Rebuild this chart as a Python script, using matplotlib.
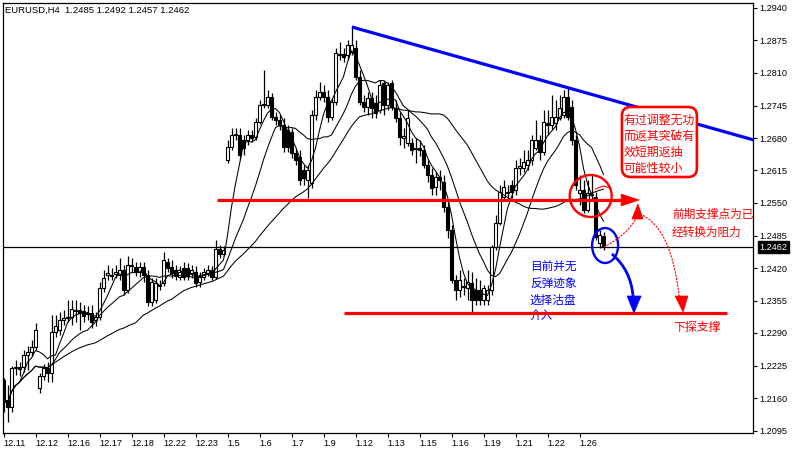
import numpy as np
import pandas as pd
import matplotlib
matplotlib.use("Agg")
import matplotlib.pyplot as plt
from matplotlib.patches import Ellipse, FancyBboxPatch, Polygon, PathPatch
from matplotlib.path import Path

# ---------------- data (EURUSD H4 candles) ----------------
opens = [1.2196, 1.2156, 1.2142, 1.2220, 1.2222, 1.2222, 1.2246, 1.2252, 1.2262, 1.2180,
         1.2204, 1.2220, 1.2210, 1.2292, 1.2296, 1.2316, 1.2320, 1.2322, 1.2336, 1.2336,
         1.2334, 1.2328, 1.2330, 1.2316, 1.2322, 1.2380, 1.2406, 1.2406, 1.2408, 1.2406,
         1.2416, 1.2376, 1.2426, 1.2422, 1.2412, 1.2422, 1.2406, 1.2352, 1.2356, 1.2386,
         1.2390, 1.2432, 1.2422, 1.2416, 1.2402, 1.2420, 1.2420, 1.2410, 1.2412, 1.2392,
         1.2402, 1.2410, 1.2416, 1.2402, 1.2458, 1.2448, 1.2636, 1.2662, 1.2686, 1.2686,
         1.2676, 1.2676, 1.2686, 1.2682, 1.2712, 1.2746, 1.2746, 1.2762, 1.2722, 1.2716,
         1.2706, 1.2696, 1.2692, 1.2650, 1.2642, 1.2616, 1.2596, 1.2590, 1.2726, 1.2762,
         1.2772, 1.2762, 1.2722, 1.2752, 1.2846, 1.2848, 1.2846, 1.2852, 1.2860, 1.2802,
         1.2752, 1.2742, 1.2760, 1.2750, 1.2736, 1.2790, 1.2746, 1.2790, 1.2740, 1.2720,
         1.2680, 1.2670, 1.2670, 1.2660, 1.2660, 1.2656, 1.2626, 1.2606, 1.2582, 1.2602,
         1.2592, 1.2542, 1.2496, 1.2396, 1.2376, 1.2382, 1.2380, 1.2390, 1.2376, 1.2376,
         1.2356, 1.2356, 1.2376, 1.2462, 1.2510, 1.2562, 1.2570, 1.2586, 1.2576, 1.2620,
         1.2620, 1.2626, 1.2636, 1.2660, 1.2676, 1.2652, 1.2710, 1.2706, 1.2710, 1.2720,
         1.2726, 1.2762, 1.2742, 1.2676, 1.2570, 1.2576, 1.2536, 1.2566, 1.2562, 1.2470,
         1.2485]
closes = [1.2156, 1.2142, 1.2220, 1.2222, 1.2218, 1.2246, 1.2252, 1.2262, 1.2296, 1.2204,
          1.2220, 1.2210, 1.2292, 1.2304, 1.2316, 1.2320, 1.2322, 1.2338, 1.2334, 1.2330,
          1.2324, 1.2330, 1.2312, 1.2322, 1.2380, 1.2400, 1.2410, 1.2404, 1.2412, 1.2416,
          1.2376, 1.2426, 1.2424, 1.2412, 1.2422, 1.2406, 1.2352, 1.2392, 1.2390, 1.2384,
          1.2436, 1.2420, 1.2410, 1.2404, 1.2412, 1.2402, 1.2404, 1.2416, 1.2390, 1.2402,
          1.2412, 1.2416, 1.2402, 1.2458, 1.2448, 1.2456, 1.2662, 1.2686, 1.2688, 1.2646,
          1.2660, 1.2686, 1.2680, 1.2712, 1.2746, 1.2748, 1.2762, 1.2722, 1.2716, 1.2706,
          1.2662, 1.2662, 1.2650, 1.2636, 1.2596, 1.2600, 1.2616, 1.2726, 1.2762, 1.2772,
          1.2762, 1.2722, 1.2752, 1.2850, 1.2848, 1.2842, 1.2866, 1.2866, 1.2802, 1.2752,
          1.2742, 1.2760, 1.2740, 1.2730, 1.2786, 1.2746, 1.2786, 1.2742, 1.2720, 1.2682,
          1.2684, 1.2720, 1.2656, 1.2658, 1.2656, 1.2626, 1.2606, 1.2580, 1.2602, 1.2596,
          1.2542, 1.2496, 1.2396, 1.2376, 1.2396, 1.2384, 1.2392, 1.2356, 1.2356, 1.2356,
          1.2380, 1.2376, 1.2462, 1.2510, 1.2572, 1.2582, 1.2572, 1.2572, 1.2620, 1.2624,
          1.2632, 1.2636, 1.2676, 1.2676, 1.2652, 1.2712, 1.2706, 1.2722, 1.2722, 1.2740,
          1.2762, 1.2722, 1.2676, 1.2586, 1.2576, 1.2536, 1.2570, 1.2568, 1.2482, 1.2486,
          1.2462]
highs = [1.2200, 1.2186, 1.2224, 1.2236, 1.2232, 1.2256, 1.2264, 1.2276, 1.2310, 1.2210,
         1.2228, 1.2232, 1.2326, 1.2326, 1.2332, 1.2336, 1.2356, 1.2356, 1.2356, 1.2352,
         1.2346, 1.2344, 1.2346, 1.2332, 1.2392, 1.2416, 1.2426, 1.2420, 1.2426, 1.2440,
         1.2426, 1.2444, 1.2440, 1.2432, 1.2432, 1.2432, 1.2416, 1.2400, 1.2400, 1.2396,
         1.2452, 1.2440, 1.2436, 1.2426, 1.2424, 1.2432, 1.2430, 1.2426, 1.2424, 1.2412,
         1.2420, 1.2426, 1.2424, 1.2476, 1.2466, 1.2464, 1.2676, 1.2700, 1.2700, 1.2700,
         1.2686, 1.2696, 1.2696, 1.2720, 1.2756, 1.2816, 1.2776, 1.2770, 1.2732, 1.2726,
         1.2720, 1.2706, 1.2700, 1.2660, 1.2656, 1.2626, 1.2626, 1.2736, 1.2776, 1.2792,
         1.2786, 1.2776, 1.2760, 1.2860, 1.2872, 1.2860, 1.2876, 1.2902, 1.2876, 1.2816,
         1.2766, 1.2772, 1.2772, 1.2766, 1.2796, 1.2796, 1.2792, 1.2796, 1.2756, 1.2732,
         1.2700, 1.2736, 1.2680, 1.2680, 1.2676, 1.2666, 1.2636, 1.2620, 1.2612, 1.2616,
         1.2606, 1.2556, 1.2506, 1.2406, 1.2416, 1.2400, 1.2416, 1.2412, 1.2400, 1.2396,
         1.2386, 1.2386, 1.2466, 1.2526, 1.2586, 1.2596, 1.2586, 1.2596, 1.2636, 1.2640,
         1.2656, 1.2656, 1.2686, 1.2716, 1.2686, 1.2736, 1.2736, 1.2766, 1.2756, 1.2766,
         1.2776, 1.2782, 1.2756, 1.2686, 1.2606, 1.2596, 1.2596, 1.2606, 1.2572, 1.2496,
         1.2492]
lows = [1.2132, 1.2112, 1.2132, 1.2206, 1.2204, 1.2212, 1.2216, 1.2244, 1.2256, 1.2170,
        1.2196, 1.2192, 1.2192, 1.2282, 1.2286, 1.2306, 1.2312, 1.2306, 1.2312, 1.2296,
        1.2312, 1.2316, 1.2300, 1.2304, 1.2316, 1.2372, 1.2396, 1.2396, 1.2400, 1.2396,
        1.2366, 1.2370, 1.2412, 1.2404, 1.2402, 1.2392, 1.2344, 1.2344, 1.2350, 1.2376,
        1.2384, 1.2412, 1.2400, 1.2396, 1.2396, 1.2396, 1.2396, 1.2400, 1.2382, 1.2382,
        1.2396, 1.2404, 1.2396, 1.2398, 1.2440, 1.2444, 1.2630, 1.2656, 1.2676, 1.2636,
        1.2646, 1.2666, 1.2672, 1.2676, 1.2708, 1.2740, 1.2740, 1.2716, 1.2706, 1.2696,
        1.2652, 1.2652, 1.2640, 1.2626, 1.2586, 1.2586, 1.2560, 1.2580, 1.2716, 1.2756,
        1.2752, 1.2712, 1.2716, 1.2746, 1.2836, 1.2832, 1.2836, 1.2846, 1.2796, 1.2746,
        1.2732, 1.2726, 1.2720, 1.2720, 1.2730, 1.2726, 1.2736, 1.2736, 1.2712, 1.2666,
        1.2660, 1.2664, 1.2646, 1.2630, 1.2644, 1.2620, 1.2592, 1.2566, 1.2566, 1.2576,
        1.2532, 1.2480, 1.2390, 1.2356, 1.2362, 1.2366, 1.2356, 1.2332, 1.2346, 1.2346,
        1.2346, 1.2346, 1.2366, 1.2456, 1.2506, 1.2556, 1.2556, 1.2560, 1.2566, 1.2606,
        1.2612, 1.2616, 1.2626, 1.2656, 1.2636, 1.2646, 1.2686, 1.2696, 1.2696, 1.2716,
        1.2720, 1.2716, 1.2666, 1.2576, 1.2546, 1.2530, 1.2532, 1.2556, 1.2476, 1.2460,
        1.2457]

ma_periods = [5, 13, 34]
date_labels = ['12.11', '12.12', '12.16', '12.17', '12.18', '12.22', '12.23', '1.5', '1.6',
               '1.7', '1.9', '1.12', '1.13', '1.15', '1.16', '1.19', '1.21', '1.22', '1.26']
bars_per_label = 8
price_ticks = [1.2940, 1.2875, 1.2810, 1.2745, 1.2680, 1.2615, 1.2550, 1.2485,
               1.2420, 1.2355, 1.2290, 1.2225, 1.2160, 1.2095]
title = "EURUSD,H4  1.2485 1.2492 1.2457 1.2462"

# annotation anchors (bar index, price)
trend_line = [(87.1, 1.2902), (187.6, 1.2676)]
support_level = 1.2556
support_span = (53.4, 154.4)
support_head = [(154.4, 1.2568), (154.4, 1.2544), (158.9, 1.2556)]
target_level = 1.2330
target_span = (85.1, 180.9)

box_lines = ["有过调整无功", "而返其突破有", "效短期返抽", "可能性较小"]
box_line_prices = [1.2716, 1.2684, 1.2652, 1.2620]
box_rect = (154.6, 1.2602, 18.75, 0.0140)
res_lines = ["前期支撑点为已", "经转换为阻力"]
res_prices = [1.2528, 1.2492]
blue_lines = ["目前并无", "反弹迹象", "选择沽盘", "介入"]
blue_prices = [1.2422, 1.2388, 1.2356, 1.2324]

RED = '#ff0000'
BLUE = '#0000ff'
CJK = ['Noto Sans CJK SC', 'DejaVu Sans']

# ---------------- figure ----------------
W, H = 800, 471
fig = plt.figure(figsize=(W / 100, H / 100), dpi=100)
fig.patch.set_facecolor('white')
ax = fig.add_axes([2.5 / W, (H - 432.5) / H, (753 - 2.5) / W, (432.5 - 2.5) / H])
ax.set_xlim(-0.25, 187.375)
ax.set_ylim(1.2091, 1.2951)
ax.set_facecolor('white')
for s in ax.spines.values():
    s.set_linewidth(0.9)
    s.set_color('black')

o = np.array(opens); c = np.array(closes); h = np.array(highs); l = np.array(lows)
idx = np.arange(len(c))
up = c >= o

# current price line
ax.axhline(c[-1], color='black', lw=0.9, zorder=1)

# candles
ax.vlines(idx, l, h, color='black', lw=0.9, zorder=2)
bottom = np.minimum(o, c)
height = np.maximum(np.abs(c - o), 0.00005)
ax.bar(idx[up], height[up], bottom=bottom[up], width=0.62, facecolor='white',
       edgecolor='black', linewidth=0.8, zorder=3)
ax.bar(idx[~up], height[~up], bottom=bottom[~up], width=0.62, facecolor='black',
       edgecolor='black', linewidth=0.8, zorder=3)

# moving averages
cs = pd.Series(closes)
for p in ma_periods:
    ax.plot(idx, cs.rolling(p, min_periods=1).mean(), color='black', lw=0.75, zorder=4)

# trend line
ax.plot([trend_line[0][0], trend_line[1][0]], [trend_line[0][1], trend_line[1][1]],
        color=BLUE, lw=2.3, zorder=5, solid_capstyle='butt')

# support / target lines
ax.plot(support_span, [support_level, support_level], color=RED, lw=2.3, zorder=5,
        solid_capstyle='butt')
ax.add_patch(Polygon(support_head, closed=True, fc=RED, ec=RED, lw=0.5, zorder=6))
ax.plot(target_span, [target_level, target_level], color=RED, lw=2.3, zorder=5,
        solid_capstyle='butt')

# circles
ax.add_patch(Ellipse((146.8, 1.2564), 10.5, 0.0084, fill=False, ec=RED, lw=1.7, zorder=6))
ax.add_patch(Ellipse((150.4, 1.2465), 6.5, 0.0070, fill=False, ec=BLUE, lw=1.7, zorder=6))

# blue curved arrow
bp = Path([(152.1, 1.2448), (156.9, 1.2416), (157.4, 1.2362)],
          [Path.MOVETO, Path.CURVE3, Path.CURVE3])
ax.add_patch(PathPatch(bp, fill=False, ec=BLUE, lw=2.0, zorder=6))
ax.add_patch(Polygon([(155.9, 1.2364), (159.4, 1.2364), (157.6, 1.2330)], closed=True,
                     fc=BLUE, ec=BLUE, lw=0.5, zorder=6))

# red thin arrows
rp1 = Path([(150.1, 1.2462), (155.6, 1.2484), (158.1, 1.2518)],
           [Path.MOVETO, Path.CURVE3, Path.CURVE3])
ax.add_patch(PathPatch(rp1, fill=False, ec=RED, lw=0.8, ls=(0, (2, 1)), zorder=6))
ax.add_patch(Polygon([(157.1, 1.2518), (159.9, 1.2518), (158.6, 1.2548)], closed=True,
                     fc=RED, ec=RED, lw=0.5, zorder=6))
rp2 = Path([(159.1, 1.2528), (166.9, 1.2504), (168.9, 1.2364)],
           [Path.MOVETO, Path.CURVE3, Path.CURVE3])
ax.add_patch(PathPatch(rp2, fill=False, ec=RED, lw=0.8, ls=(0, (2, 1)), zorder=6))
ax.add_patch(Polygon([(167.9, 1.2364), (171.1, 1.2364), (169.9, 1.2332)], closed=True,
                     fc=RED, ec=RED, lw=0.5, zorder=6))

# small red hand-drawn mark near circle
ax.plot([148.0, 150.0, 151.5], [1.2578, 1.2584, 1.2580], color=RED, lw=0.8, zorder=6)

# rounded red text box
ax.add_patch(FancyBboxPatch(box_rect[:2], box_rect[2], box_rect[3],
                            boxstyle="round,pad=0,rounding_size=2.2",
                            mutation_aspect=0.0008, fc='white', ec=RED, lw=1.9, zorder=7))
for t, p in zip(box_lines, box_line_prices):
    ax.text(154.9, p, t, color=RED, fontsize=8.6, family=CJK, ha='left', va='center', zorder=8)
for t, p in zip(res_lines, res_prices):
    ax.text(167.1, p, t, color=RED, fontsize=8.4, family=CJK, ha='left', va='center', zorder=8)
ax.text(167.4, 1.2302, "下探支撑", color=RED, fontsize=8.6, family=CJK, ha='left',
        va='center', zorder=8)
for t, p in zip(blue_lines, blue_prices):
    ax.text(131.6, p, t, color=BLUE, fontsize=8.4, family=CJK, ha='left', va='center', zorder=4.5)

# title
ax.text(0.0035, 0.9826, title, transform=ax.transAxes, fontsize=6.8, family='Liberation Sans',
        ha='left', va='center', zorder=9)

# axes ticks
ax.yaxis.tick_right()
ax.set_yticks(price_ticks)
ax.set_yticklabels([f"{v:.4f}" for v in price_ticks], family='Liberation Sans')
ax.tick_params(axis='y', direction='out', length=3, width=0.8, pad=1.5, labelsize=6.6)
ax.set_xticks(np.arange(0, bars_per_label * len(date_labels), bars_per_label))
ax.set_xticklabels(date_labels, family='Liberation Sans')
ax.tick_params(axis='x', direction='out', length=3, width=0.8, pad=1.5, labelsize=6.6)
for lab in ax.get_xticklabels():
    lab.set_horizontalalignment('left')

# current price marker box
ax.annotate(f"{closes[-1]:.4f}", xy=(1.0, closes[-1]), xycoords=('axes fraction', 'data'),
            xytext=(4.5, 0), textcoords='offset points', ha='left', va='center',
            color='white', fontsize=6.6, family='Liberation Sans', annotation_clip=False,
            bbox=dict(boxstyle='square,pad=0.15', fc='black', ec='black'))

fig.savefig('out.png', dpi=100, facecolor='white')
